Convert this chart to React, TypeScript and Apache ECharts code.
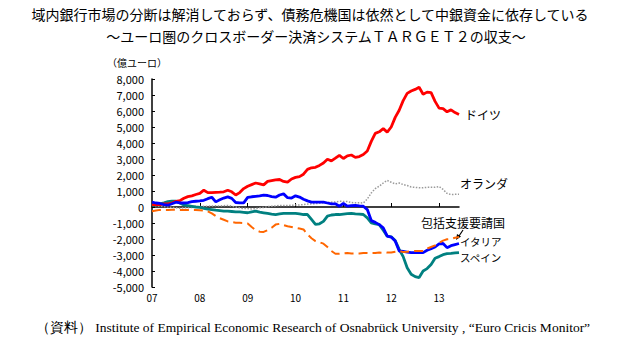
import React, { useEffect, useRef } from "react";
import * as echarts from "echarts";

const yearLabels = ["07", "08", "09", "10", "11", "12", "13"];
const monthsInLastYear = 6;

const germany = [150, 150, 150, 200, 200, 250, 350, 400, 550, 650, 700, 780, 850, 1050, 900, 900, 920, 930, 950, 1050, 950, 750, 900, 1150, 1300, 1400, 1500, 1450, 1380, 1600, 1650, 1700, 1720, 1600, 1550, 1750, 1850, 1900, 2050, 2350, 2450, 2480, 2600, 2750, 2980, 2880, 3050, 3230, 3030, 3200, 3250, 3100, 3150, 3280, 3500, 4100, 4600, 4700, 4900, 4680, 5000, 5600, 6050, 6650, 7100, 7250, 7350, 7480, 7050, 7180, 7150, 6600, 6180, 6150, 5950, 6070, 5900, 5780];
const italy = [300, 250, 220, 150, 110, 200, 300, 260, 250, 280, 330, 360, 380, 420, 520, 610, 320, 450, 560, 630, 540, 280, 260, 260, 600, 640, 670, 700, 740, 720, 650, 610, 750, 820, 580, 560, 700, 620, 480, 380, 300, 300, 300, 300, 250, 200, 200, 50, 220, 50, 80, 100, 70, 50, -160, -850, -960, -1100, -1300, -1820, -1880, -2130, -2750, -2780, -2820, -2850, -2850, -2850, -2850, -2700, -2600, -2500, -2300, -2280, -2540, -2420, -2350, -2280];
const spain = [100, 150, 200, 260, 330, 370, 360, 250, 120, 80, 40, 0, -30, -80, -130, -160, -200, -230, -260, -260, -280, -300, -300, -330, -360, -300, -260, -320, -360, -400, -440, -470, -430, -400, -400, -400, -400, -430, -470, -470, -780, -1090, -1050, -900, -570, -500, -470, -470, -440, -420, -400, -430, -450, -470, -680, -990, -1050, -1100, -1450, -1820, -1860, -2100, -2650, -3100, -3800, -4200, -4350, -4410, -4000, -3850, -3600, -3200, -3100, -2980, -2920, -2900, -2870, -2850];
const programCountries = [-260, -220, -180, -180, -180, -170, -180, -180, -180, -180, -180, -180, -200, -230, -270, -400, -570, -700, -800, -900, -940, -980, -990, -1000, -1030, -1250, -1440, -1540, -1560, -1450, -1300, -1100, -1050, -1130, -1200, -1250, -1300, -1350, -1400, -1720, -1950, -2130, -2200, -2290, -2500, -2750, -2920, -2920, -2900, -2880, -2900, -2900, -2900, -2880, -2870, -2880, -2880, -2850, -2860, -2850, -2850, -2800, -2750, -2820, -2800, -2750, -2750, -2750, -2750, -2600, -2500, -2400, -2230, -2100, -2020, -2000, -1920, -1880];
const netherlands = [100, 80, 50, 30, 0, -20, -50, -80, -50, -40, -30, 0, 20, 40, 50, 60, 80, 60, 80, 100, 50, 0, -50, -100, -100, -120, -100, -50, -30, 20, 50, 60, 100, 100, 90, 110, 120, 130, 150, 180, 200, 210, 240, 260, 280, 300, 320, 360, 350, 340, 280, 260, 270, 250, 500, 880, 1150, 1300, 1500, 1660, 1550, 1440, 1500, 1400, 1340, 1250, 1230, 1200, 1200, 1230, 1230, 1230, 1280, 1100, 850, 780, 790, 800];

const seriesNames = ["ドイツ", "オランダ", "包括支援要請国", "イタリア", "スペイン"];

const months: string[] = [];
yearLabels.forEach((y, yi) => {
  const n = yi === yearLabels.length - 1 ? monthsInLastYear : 12;
  for (let m = 1; m <= n; m++) months.push(`${y}/${m}`);
});

const jp = "'Noto Sans CJK JP', 'Noto Sans', sans-serif";

export default function App() {
  const ref = useRef<HTMLDivElement>(null);
  useEffect(() => {
    if (!ref.current) return;
    const chart = echarts.init(ref.current, null, { renderer: "svg" });
    const yearStart = (i: number) => i % 12 === 0;
    chart.setOption({
      animation: false,
      backgroundColor: "#ffffff",
      grid: { left: 152, right: 163, top: 79, bottom: 63, containLabel: false },
      xAxis: [
        {
          type: "category",
          data: months,
          boundaryGap: false,
          position: "bottom",
          axisLine: { show: false, onZero: false },
          axisTick: { show: false },
          splitLine: { show: false },
          axisLabel: {
            interval: (i: number) => yearStart(i),
            formatter: (v: string) => v.split("/")[0],
            fontSize: 10,
            fontFamily: jp,
            color: "#000",
            margin: 5,
          },
        },
        {
          type: "category",
          data: months,
          boundaryGap: false,
          position: "top",
          axisLine: { show: true, onZero: true, lineStyle: { color: "#000", width: 1.5 } },
          axisTick: { show: true, interval: (i: number) => yearStart(i), length: 4, lineStyle: { color: "#000" } },
          axisLabel: { show: false },
          splitLine: { show: false },
        },
      ],
      yAxis: {
        type: "value",
        min: -5000,
        max: 8000,
        interval: 1000,
        axisLine: { show: true, onZero: false, lineStyle: { color: "#000", width: 1.5 } },
        axisTick: { show: true, inside: true, length: 3, lineStyle: { color: "#000" } },
        splitLine: { show: false },
        axisLabel: {
          formatter: (v: number) => v.toLocaleString("en-US"),
          fontSize: 11,
          fontFamily: jp,
          color: "#000",
          margin: 8,
        },
      },
      series: [
        {
          name: seriesNames[1],
          type: "line",
          data: netherlands,
          showSymbol: false,
          lineStyle: { color: "#9a9a9a", width: 1.5, type: "dotted" },
          z: 2,
        },
        {
          name: seriesNames[4],
          type: "line",
          data: spain,
          showSymbol: false,
          lineStyle: { color: "#008080", width: 2.8 },
          z: 3,
        },
        {
          name: seriesNames[0],
          type: "line",
          data: germany,
          showSymbol: false,
          lineStyle: { color: "#ff0000", width: 2.8 },
          z: 4,
        },
        {
          name: seriesNames[3],
          type: "line",
          data: italy,
          showSymbol: false,
          lineStyle: { color: "#0000ff", width: 2.8 },
          z: 5,
        },
        {
          name: seriesNames[2],
          type: "line",
          data: programCountries,
          showSymbol: false,
          lineStyle: { color: "#ff6600", width: 2, type: [9, 5] },
          z: 6,
        },
      ],
      graphic: [
        { type: "text", left: "center", top: 7, style: { text: "域内銀行市場の分断は解消しておらず、債務危機国は依然として中銀資金に依存している", fontSize: 14, fontFamily: jp, fill: "#000" } },
        { type: "text", x: 316, y: 29, style: { text: "～ユーロ圏のクロスボーダー決済システムＴＡＲＧＥＴ２の収支～", fontSize: 14, fontFamily: jp, fill: "#000", textAlign: "center" } },
        { type: "text", x: 107, y: 57, style: { text: "（億ユーロ）", fontSize: 10, fontFamily: jp, fill: "#000" } },
        { type: "text", x: 465, y: 108, style: { text: seriesNames[0], fontSize: 12, fontFamily: jp, fill: "#000" } },
        { type: "text", x: 460, y: 177, style: { text: seriesNames[1], fontSize: 12, fontFamily: jp, fill: "#000" } },
        { type: "text", x: 421, y: 216, style: { text: seriesNames[2], fontSize: 12, fontFamily: jp, fill: "#000" } },
        { type: "text", x: 460, y: 236.5, style: { text: seriesNames[3], fontSize: 10.5, fontFamily: jp, fill: "#000" } },
        { type: "text", x: 460, y: 252, style: { text: seriesNames[4], fontSize: 10.5, fontFamily: jp, fill: "#000" } },
        { type: "line", shape: { x1: 463, y1: 230, x2: 459, y2: 236 }, style: { stroke: "#000", lineWidth: 1.2 } },
        { type: "polygon", shape: { points: [[456, 240], [457, 234], [461, 236.5]] }, style: { fill: "#000" } },
        { type: "text", x: 313, y: 320, style: { text: "（資料） Institute of Empirical Economic Research of Osnabrück University , “Euro Cricis Monitor”", fontSize: 13.5, fontFamily: "'Liberation Serif', serif", fill: "#000", textAlign: "center" } },
      ],
    });
    return () => chart.dispose();
  }, []);
  return <div ref={ref} style={{ position: "absolute", left: 0, top: 0, width: 622, height: 350 }} />;
}
